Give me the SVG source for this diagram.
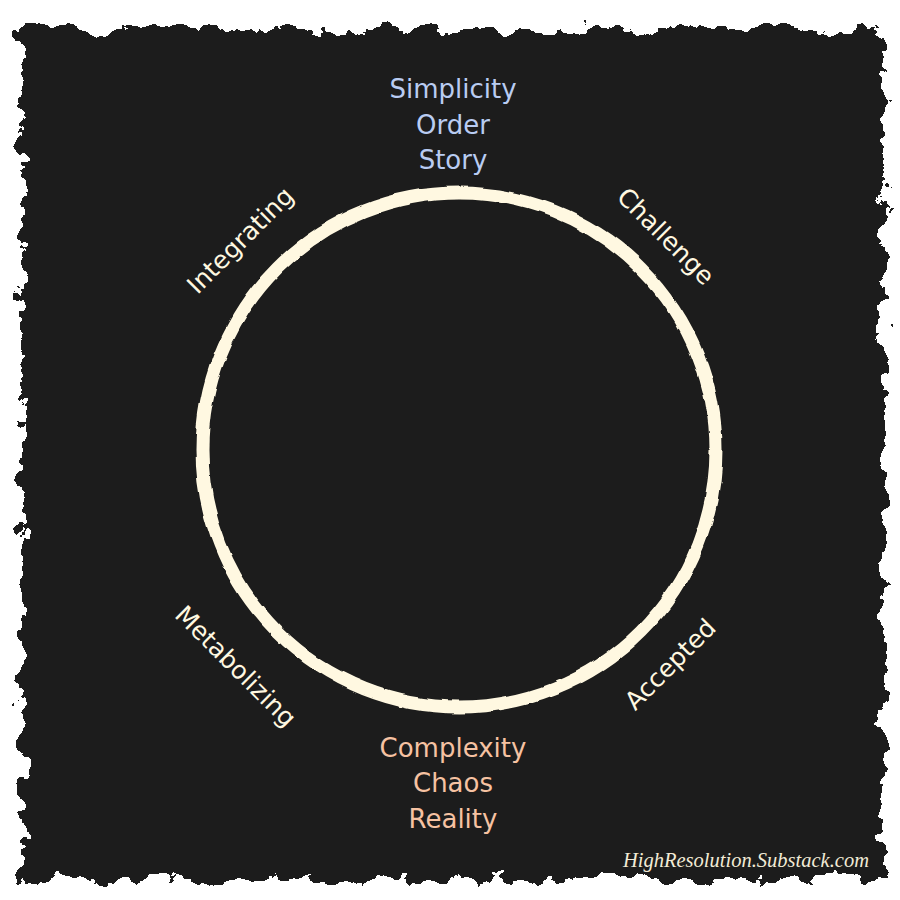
<svg xmlns="http://www.w3.org/2000/svg" width="900" height="900" viewBox="0 0 900 900">
  <defs>
    <filter id="rough" x="-5%" y="-5%" width="110%" height="110%">
      <feTurbulence type="fractalNoise" baseFrequency="0.045" numOctaves="4" seed="3" result="n"/>
      <feDisplacementMap in="SourceGraphic" in2="n" scale="30" xChannelSelector="R" yChannelSelector="G"/>
    </filter>
    <filter id="wobble" x="-5%" y="-5%" width="110%" height="110%">
      <feTurbulence type="fractalNoise" baseFrequency="0.03" numOctaves="3" seed="7" result="n"/>
      <feDisplacementMap in="SourceGraphic" in2="n" scale="5" xChannelSelector="R" yChannelSelector="G"/>
    </filter>
    <style>
      .lbl { font-family: "DejaVu Sans", Verdana, sans-serif; font-size: 25px; fill: #FFF8E1; text-anchor: middle; }
      .top { font-family: "DejaVu Sans", Verdana, sans-serif; font-size: 26px; fill: #B9CCF2; text-anchor: middle; }
      .bot { font-family: "DejaVu Sans", Verdana, sans-serif; font-size: 26px; fill: #F6C2A2; text-anchor: middle; }
      .mark { font-family: "Liberation Serif", serif; font-style: italic; font-size: 20.5px; fill: #F2EBD6; }
    </style>
  </defs>
  <rect width="900" height="900" fill="#ffffff"/>
  <g id="background">
    <rect x="22" y="28" width="862" height="852" fill="#1B1B1D" filter="url(#rough)"/>
  </g>
  <g id="cycle">
    <circle cx="459" cy="450" r="257" fill="none" stroke="#FFF8E1" stroke-width="13" filter="url(#wobble)"/>
  </g>
  <g id="node-top">
    <text class="top" x="453" y="98">Simplicity</text>
    <text class="top" x="453" y="134">Order</text>
    <text class="top" x="453" y="169">Story</text>
  </g>
  <g id="node-bottom">
    <text class="bot" x="453" y="757">Complexity</text>
    <text class="bot" x="453" y="792">Chaos</text>
    <text class="bot" x="453" y="828">Reality</text>
  </g>
  <g id="node-challenge">
    <text class="lbl" transform="translate(666,236) rotate(45)" y="9">Challenge</text>
  </g>
  <g id="node-integrating">
    <text class="lbl" transform="translate(240,240) rotate(-45)" y="9">Integrating</text>
  </g>
  <g id="node-metabolizing">
    <text class="lbl" transform="translate(236,666) rotate(45)" y="9">Metabolizing</text>
  </g>
  <g id="node-accepted">
    <text class="lbl" transform="translate(670,664) rotate(-45)" y="9">Accepted</text>
  </g>
  <g id="watermark">
    <text class="mark" x="623" y="867">HighResolution.Substack.com</text>
  </g>
</svg>
